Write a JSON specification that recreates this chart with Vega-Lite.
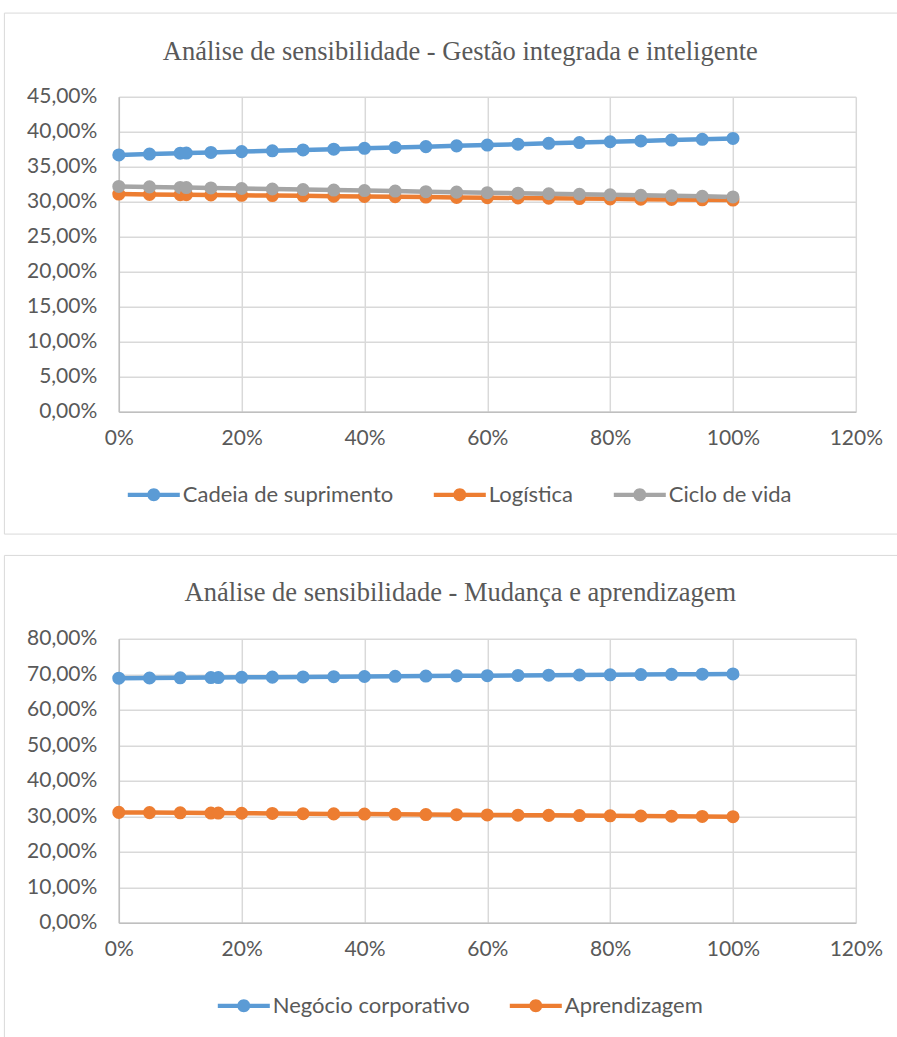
{
  "$schema": "https://vega.github.io/schema/vega-lite/v6.json",
  "background": "white",
  "padding": {"left": 3.8, "top": 11.8, "right": 0, "bottom": 0},
  "config": {
    "view": {"stroke": null},
    "font": "Lato",
    "axis": {
      "labelFont": "Lato", "labelFontSize": 21, "labelColor": "#595959",
      "gridColor": "#D9D9D9", "gridWidth": 1.5, "domainColor": "#BFBFBF", "domainWidth": 1.5,
      "ticks": false, "title": null, "labelFlush": false, "grid": true
    },
    "legend": {
      "labelFont": "Lato", "labelFontSize": 22, "labelColor": "#595959", "labelLimit": 500
    },
    "title": {"font": "Liberation Serif", "fontSize": 26.5, "fontWeight": "normal", "color": "#595959"}
  },
  "datasets": {
    "frame": [{"k": 1}],
    "g": [
      {"p": 0, "Cadeia de suprimento": 36.70, "Logística": 31.10, "Ciclo de vida": 32.20},
      {"p": 5, "Cadeia de suprimento": 36.82, "Logística": 31.06, "Ciclo de vida": 32.13},
      {"p": 10, "Cadeia de suprimento": 36.94, "Logística": 31.02, "Ciclo de vida": 32.05},
      {"p": 11, "Cadeia de suprimento": 36.96, "Logística": 31.01, "Ciclo de vida": 32.04},
      {"p": 15, "Cadeia de suprimento": 37.05, "Logística": 30.97, "Ciclo de vida": 31.98},
      {"p": 20, "Cadeia de suprimento": 37.17, "Logística": 30.93, "Ciclo de vida": 31.90},
      {"p": 25, "Cadeia de suprimento": 37.29, "Logística": 30.89, "Ciclo de vida": 31.83},
      {"p": 30, "Cadeia de suprimento": 37.41, "Logística": 30.85, "Ciclo de vida": 31.75},
      {"p": 35, "Cadeia de suprimento": 37.52, "Logística": 30.80, "Ciclo de vida": 31.68},
      {"p": 40, "Cadeia de suprimento": 37.64, "Logística": 30.76, "Ciclo de vida": 31.60},
      {"p": 45, "Cadeia de suprimento": 37.76, "Logística": 30.72, "Ciclo de vida": 31.53},
      {"p": 50, "Cadeia de suprimento": 37.88, "Logística": 30.68, "Ciclo de vida": 31.45},
      {"p": 55, "Cadeia de suprimento": 37.99, "Logística": 30.63, "Ciclo de vida": 31.38},
      {"p": 60, "Cadeia de suprimento": 38.11, "Logística": 30.59, "Ciclo de vida": 31.30},
      {"p": 65, "Cadeia de suprimento": 38.23, "Logística": 30.55, "Ciclo de vida": 31.23},
      {"p": 70, "Cadeia de suprimento": 38.35, "Logística": 30.51, "Ciclo de vida": 31.15},
      {"p": 75, "Cadeia de suprimento": 38.46, "Logística": 30.46, "Ciclo de vida": 31.08},
      {"p": 80, "Cadeia de suprimento": 38.58, "Logística": 30.42, "Ciclo de vida": 31.00},
      {"p": 85, "Cadeia de suprimento": 38.70, "Logística": 30.38, "Ciclo de vida": 30.93},
      {"p": 90, "Cadeia de suprimento": 38.82, "Logística": 30.34, "Ciclo de vida": 30.85},
      {"p": 95, "Cadeia de suprimento": 38.93, "Logística": 30.29, "Ciclo de vida": 30.78},
      {"p": 100, "Cadeia de suprimento": 39.05, "Logística": 30.25, "Ciclo de vida": 30.70}
    ],
    "m": [
      {"p": 0, "Negócio corporativo": 68.90, "Aprendizagem": 31.10},
      {"p": 5, "Negócio corporativo": 68.96, "Aprendizagem": 31.04},
      {"p": 10, "Negócio corporativo": 69.02, "Aprendizagem": 30.98},
      {"p": 15, "Negócio corporativo": 69.08, "Aprendizagem": 30.92},
      {"p": 16.2, "Negócio corporativo": 69.09, "Aprendizagem": 30.91},
      {"p": 20, "Negócio corporativo": 69.14, "Aprendizagem": 30.86},
      {"p": 25, "Negócio corporativo": 69.20, "Aprendizagem": 30.80},
      {"p": 30, "Negócio corporativo": 69.26, "Aprendizagem": 30.74},
      {"p": 35, "Negócio corporativo": 69.32, "Aprendizagem": 30.68},
      {"p": 40, "Negócio corporativo": 69.38, "Aprendizagem": 30.62},
      {"p": 45, "Negócio corporativo": 69.44, "Aprendizagem": 30.56},
      {"p": 50, "Negócio corporativo": 69.50, "Aprendizagem": 30.50},
      {"p": 55, "Negócio corporativo": 69.56, "Aprendizagem": 30.44},
      {"p": 60, "Negócio corporativo": 69.62, "Aprendizagem": 30.38},
      {"p": 65, "Negócio corporativo": 69.68, "Aprendizagem": 30.32},
      {"p": 70, "Negócio corporativo": 69.74, "Aprendizagem": 30.26},
      {"p": 75, "Negócio corporativo": 69.80, "Aprendizagem": 30.20},
      {"p": 80, "Negócio corporativo": 69.86, "Aprendizagem": 30.14},
      {"p": 85, "Negócio corporativo": 69.92, "Aprendizagem": 30.08},
      {"p": 90, "Negócio corporativo": 69.98, "Aprendizagem": 30.02},
      {"p": 95, "Negócio corporativo": 70.04, "Aprendizagem": 29.96},
      {"p": 100, "Negócio corporativo": 70.10, "Aprendizagem": 29.90}
    ]
  },
  "vconcat": [
    {
      "width": 737, "height": 315,
      "title": {"text": "Análise de sensibilidade - Gestão integrada e inteligente", "anchor": "middle", "frame": "group", "dx": -27, "offset": -52.7},
      "layer": [
        {
          "data": {"name": "frame"},
          "mark": {"type": "rect", "filled": false, "stroke": "#D9D9D9", "strokeWidth": 1, "clip": false},
          "encoding": {
            "x": {"datum": -18.63, "type": "quantitative", "scale": {"domain": [0, 120], "nice": false},
                  "axis": {"tickCount": 6, "labelExpr": "datum.value + '%'", "labelPadding": 16, "grid": true}},
            "x2": {"datum": 140},
            "y": {"datum": 56.96, "type": "quantitative", "scale": {"domain": [0, 45], "nice": false},
                  "axis": {"tickCount": 9, "labelExpr": "replace(format(datum.value, '.2f'), '.', ',') + '%'", "labelPadding": 22, "grid": true}},
            "y2": {"datum": -17.47}
          }
        },
        {
          "data": {"name": "g"},
          "transform": [{"fold": ["Cadeia de suprimento", "Logística", "Ciclo de vida"], "as": ["s", "v"]}],
          "mark": {"type": "line", "strokeWidth": 4.5},
          "encoding": {
            "x": {"field": "p", "type": "quantitative", "scale": {"domain": [0, 120], "nice": false},
                  "axis": {"tickCount": 6, "labelExpr": "datum.value + '%'", "labelPadding": 16, "grid": true}},
            "y": {"field": "v", "type": "quantitative", "scale": {"domain": [0, 45], "nice": false},
                  "axis": {"tickCount": 9, "labelExpr": "replace(format(datum.value, '.2f'), '.', ',') + '%'", "labelPadding": 22, "grid": true}},
            "color": {"field": "s", "type": "nominal",
                      "scale": {"domain": ["Cadeia de suprimento", "Logística", "Ciclo de vida"], "range": ["#5B9BD5", "#ED7D31", "#A5A5A5"]},
                      "legend": {"title": null, "orient": "none", "direction": "horizontal", "legendX": 9, "legendY": 372,
                                 "symbolType": "M-1,-0.08L1,-0.08L1,0.08L-1,0.08Z M0.25,0A0.25,0.25,0,1,1,-0.25,0A0.25,0.25,0,1,1,0.25,0Z",
                                 "symbolSize": 2704, "symbolStrokeWidth": 0, "symbolOpacity": 1, "columnPadding": 40, "labelOffset": 3}}
          }
        },
        {
          "data": {"name": "g"},
          "transform": [{"fold": ["Cadeia de suprimento", "Logística", "Ciclo de vida"], "as": ["s", "v"]}],
          "mark": {"type": "point", "filled": true, "size": 170, "opacity": 1},
          "encoding": {
            "x": {"field": "p", "type": "quantitative"},
            "y": {"field": "v", "type": "quantitative"},
            "color": {"field": "s", "type": "nominal"}
          }
        }
      ]
    },
    {
      "width": 737, "height": 284,
      "title": {"text": "Análise de sensibilidade - Mudança e aprendizagem", "anchor": "middle", "frame": "group", "dx": -27, "offset": -51.7},
      "layer": [
        {
          "data": {"name": "frame"},
          "mark": {"type": "rect", "filled": false, "stroke": "#D9D9D9", "strokeWidth": 1, "clip": false},
          "encoding": {
            "x": {"datum": -18.63, "type": "quantitative", "scale": {"domain": [0, 120], "nice": false},
                  "axis": {"tickCount": 6, "labelExpr": "datum.value + '%'", "labelPadding": 16, "grid": true}},
            "x2": {"datum": 140},
            "y": {"datum": 103.49, "type": "quantitative", "scale": {"domain": [0, 80], "nice": false},
                  "axis": {"tickCount": 8, "labelExpr": "replace(format(datum.value, '.2f'), '.', ',') + '%'", "labelPadding": 22, "grid": true}},
            "y2": {"datum": -40}
          }
        },
        {
          "data": {"name": "m"},
          "transform": [{"fold": ["Negócio corporativo", "Aprendizagem"], "as": ["s", "v"]}],
          "mark": {"type": "line", "strokeWidth": 4.5},
          "encoding": {
            "x": {"field": "p", "type": "quantitative", "scale": {"domain": [0, 120], "nice": false},
                  "axis": {"tickCount": 6, "labelExpr": "datum.value + '%'", "labelPadding": 16, "grid": true}},
            "y": {"field": "v", "type": "quantitative", "scale": {"domain": [0, 80], "nice": false},
                  "axis": {"tickCount": 8, "labelExpr": "replace(format(datum.value, '.2f'), '.', ',') + '%'", "labelPadding": 22, "grid": true}},
            "color": {"field": "s", "type": "nominal",
                      "scale": {"domain": ["Negócio corporativo", "Aprendizagem"], "range": ["#5B9BD5", "#ED7D31"]},
                      "legend": {"title": null, "orient": "none", "direction": "horizontal", "legendX": 99, "legendY": 341,
                                 "symbolType": "M-1,-0.08L1,-0.08L1,0.08L-1,0.08Z M0.25,0A0.25,0.25,0,1,1,-0.25,0A0.25,0.25,0,1,1,0.25,0Z",
                                 "symbolSize": 2704, "symbolStrokeWidth": 0, "symbolOpacity": 1, "columnPadding": 40, "labelOffset": 3}}
          }
        },
        {
          "data": {"name": "m"},
          "transform": [{"fold": ["Negócio corporativo", "Aprendizagem"], "as": ["s", "v"]}],
          "mark": {"type": "point", "filled": true, "size": 170, "opacity": 1},
          "encoding": {
            "x": {"field": "p", "type": "quantitative"},
            "y": {"field": "v", "type": "quantitative"},
            "color": {"field": "s", "type": "nominal"}
          }
        }
      ]
    }
  ],
  "bounds": "flush",
  "spacing": 227,
  "resolve": {"scale": {"color": "independent"}, "legend": {"color": "independent"}}
}
